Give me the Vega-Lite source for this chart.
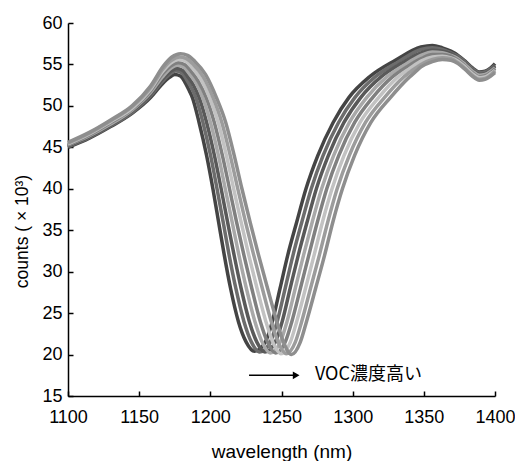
{
"$schema":"https://vega.github.io/schema/vega-lite/v6.json",
"width":427,"height":373,
"autosize":{"type":"none"},
"padding":{"left":68,"top":23,"right":20,"bottom":65},
"background":"white",
"config":{"view":{"stroke":null}},
"encoding":{
 "x":{"field":"x","type":"quantitative","scale":{"domain":[1100,1400],"nice":false,"zero":false},
  "axis":{"values":[1100,1150,1200,1250,1300,1350,1400],"format":"d","title":"wavelength (nm)","tickSize":-5,"labelPadding":17,"labelFontSize":18,"titleFontSize":19,"titleFontWeight":"normal","titleY":46,"titleBaseline":"top","grid":false,"domainColor":"black","tickColor":"black","labelColor":"black","titleColor":"black","labelFont":"Liberation Sans","titleFont":"Liberation Sans","domainWidth":1.5,"tickWidth":1.5,"labelFlush":false,"labelOverlap":false}},
 "y":{"field":"y","type":"quantitative","scale":{"domain":[15,60],"nice":false,"zero":false},
  "axis":{"values":[15,20,25,30,35,40,45,50,55,60],"title":"counts ( × 10³)","tickSize":-5,"labelPadding":11,"labelFontSize":18,"titleFontSize":17.5,"titleFontWeight":"normal","titleX":-37,"titleY":208,"grid":false,"domainColor":"black","tickColor":"black","labelColor":"black","titleColor":"black","labelFont":"Liberation Sans","titleFont":"Liberation Sans","domainWidth":1.5,"tickWidth":1.5,"labelFlush":false,"labelOverlap":false}}
},
"layer":[
{"data":{"values":[
{"c":0,"x":1100,"y":45.0},{"c":0,"x":1115,"y":46.1},{"c":0,"x":1130,"y":47.5},{"c":0,"x":1145,"y":49.1},{"c":0,"x":1158,"y":51.0},{"c":0,"x":1166,"y":52.6},{"c":0,"x":1171,"y":53.4},{"c":0,"x":1175,"y":53.8},{"c":0,"x":1179,"y":53.6},{"c":0,"x":1183,"y":52.6},{"c":0,"x":1185.3,"y":51.8},{"c":0,"x":1187.4,"y":51},{"c":0,"x":1192.1,"y":48},{"c":0,"x":1197.4,"y":44},{"c":0,"x":1201.8,"y":40},{"c":0,"x":1205.8,"y":36},{"c":0,"x":1209.8,"y":32},{"c":0,"x":1214.2,"y":28},{"c":0,"x":1219.7,"y":24},{"c":0,"x":1225.2,"y":21.5},{"c":0,"x":1231,"y":20.4},{"c":0,"x":1238.6,"y":21.5},{"c":0,"x":1243.6,"y":24},{"c":0,"x":1249,"y":28},{"c":0,"x":1254.4,"y":32},{"c":0,"x":1260.7,"y":36},{"c":0,"x":1267.2,"y":40},{"c":0,"x":1275.5,"y":44},{"c":0,"x":1286.3,"y":48},{"c":0,"x":1297.3,"y":51},{"c":0,"x":1311.8,"y":53.5},{"c":0,"x":1330,"y":55.5},{"c":0,"x":1348,"y":57.1},{"c":0,"x":1356,"y":57.3},{"c":0,"x":1363,"y":57.0},{"c":0,"x":1369,"y":56.6},{"c":0,"x":1374,"y":56.1},{"c":0,"x":1379,"y":55.4},{"c":0,"x":1384,"y":54.6},{"c":0,"x":1389,"y":54.1},{"c":0,"x":1393,"y":54.2},{"c":0,"x":1397,"y":54.6},{"c":0,"x":1400,"y":55.1},
{"c":1,"x":1100,"y":45.1},{"c":1,"x":1115,"y":46.2},{"c":1,"x":1130,"y":47.6},{"c":1,"x":1145,"y":49.2},{"c":1,"x":1158,"y":51.2},{"c":1,"x":1166.1,"y":52.9},{"c":1,"x":1171.3,"y":53.8},{"c":1,"x":1175.6,"y":54.2},{"c":1,"x":1179.7,"y":54.0},{"c":1,"x":1183.9,"y":53.0},{"c":1,"x":1186.9,"y":52.1},{"c":1,"x":1189.8,"y":51},{"c":1,"x":1194.8,"y":48},{"c":1,"x":1200.2,"y":44},{"c":1,"x":1204.7,"y":40},{"c":1,"x":1209.0,"y":36},{"c":1,"x":1213.2,"y":32},{"c":1,"x":1217.9,"y":28},{"c":1,"x":1223.6,"y":24},{"c":1,"x":1228.9,"y":21.5},{"c":1,"x":1234.7,"y":20.3},{"c":1,"x":1242.1,"y":21.5},{"c":1,"x":1247.0,"y":24},{"c":1,"x":1252.6,"y":28},{"c":1,"x":1258.1,"y":32},{"c":1,"x":1264.3,"y":36},{"c":1,"x":1270.9,"y":40},{"c":1,"x":1279.2,"y":44},{"c":1,"x":1290.1,"y":48},{"c":1,"x":1301.5,"y":51},{"c":1,"x":1315.8,"y":53.5},{"c":1,"x":1332,"y":55.3},{"c":1,"x":1348,"y":56.8},{"c":1,"x":1356,"y":57.0},{"c":1,"x":1363,"y":56.8},{"c":1,"x":1369,"y":56.4},{"c":1,"x":1374,"y":56.0},{"c":1,"x":1379,"y":55.3},{"c":1,"x":1384,"y":54.5},{"c":1,"x":1389,"y":54.0},{"c":1,"x":1393,"y":54.1},{"c":1,"x":1397,"y":54.5},{"c":1,"x":1400,"y":54.9},
{"c":2,"x":1100,"y":45.2},{"c":2,"x":1115,"y":46.3},{"c":2,"x":1130,"y":47.7},{"c":2,"x":1145,"y":49.4},{"c":2,"x":1158,"y":51.4},{"c":2,"x":1166.3,"y":53.2},{"c":2,"x":1171.6,"y":54.1},{"c":2,"x":1176.1,"y":54.5},{"c":2,"x":1180.4,"y":54.3},{"c":2,"x":1184.7,"y":53.4},{"c":2,"x":1188.5,"y":52.4},{"c":2,"x":1192.2,"y":51},{"c":2,"x":1197.4,"y":48},{"c":2,"x":1202.9,"y":44},{"c":2,"x":1207.6,"y":40},{"c":2,"x":1212.1,"y":36},{"c":2,"x":1216.7,"y":32},{"c":2,"x":1221.6,"y":28},{"c":2,"x":1227.4,"y":24},{"c":2,"x":1232.7,"y":21.5},{"c":2,"x":1238.4,"y":20.3},{"c":2,"x":1245.6,"y":21.5},{"c":2,"x":1250.5,"y":24},{"c":2,"x":1256.1,"y":28},{"c":2,"x":1261.8,"y":32},{"c":2,"x":1268.0,"y":36},{"c":2,"x":1274.5,"y":40},{"c":2,"x":1282.9,"y":44},{"c":2,"x":1293.9,"y":48},{"c":2,"x":1305.6,"y":51},{"c":2,"x":1319.9,"y":53.5},{"c":2,"x":1334,"y":55.1},{"c":2,"x":1348,"y":56.4},{"c":2,"x":1356,"y":56.7},{"c":2,"x":1363,"y":56.6},{"c":2,"x":1369,"y":56.3},{"c":2,"x":1374,"y":55.8},{"c":2,"x":1379,"y":55.1},{"c":2,"x":1384,"y":54.3},{"c":2,"x":1389,"y":53.8},{"c":2,"x":1393,"y":53.9},{"c":2,"x":1397,"y":54.3},{"c":2,"x":1400,"y":54.8},
{"c":3,"x":1100,"y":45.3},{"c":3,"x":1115,"y":46.4},{"c":3,"x":1130,"y":47.8},{"c":3,"x":1145,"y":49.5},{"c":3,"x":1158,"y":51.6},{"c":3,"x":1166.4,"y":53.5},{"c":3,"x":1171.9,"y":54.5},{"c":3,"x":1176.7,"y":54.9},{"c":3,"x":1181.1,"y":54.7},{"c":3,"x":1185.6,"y":53.8},{"c":3,"x":1190.1,"y":52.7},{"c":3,"x":1194.6,"y":51},{"c":3,"x":1200.1,"y":48},{"c":3,"x":1205.7,"y":44},{"c":3,"x":1210.5,"y":40},{"c":3,"x":1215.3,"y":36},{"c":3,"x":1220.1,"y":32},{"c":3,"x":1225.3,"y":28},{"c":3,"x":1231.3,"y":24},{"c":3,"x":1236.4,"y":21.5},{"c":3,"x":1242.1,"y":20.2},{"c":3,"x":1249.1,"y":21.5},{"c":3,"x":1253.9,"y":24},{"c":3,"x":1259.7,"y":28},{"c":3,"x":1265.5,"y":32},{"c":3,"x":1271.6,"y":36},{"c":3,"x":1278.2,"y":40},{"c":3,"x":1286.6,"y":44},{"c":3,"x":1297.7,"y":48},{"c":3,"x":1309.8,"y":51},{"c":3,"x":1323.9,"y":53.5},{"c":3,"x":1336,"y":54.9},{"c":3,"x":1348,"y":56.1},{"c":3,"x":1356,"y":56.5},{"c":3,"x":1363,"y":56.4},{"c":3,"x":1369,"y":56.1},{"c":3,"x":1374,"y":55.7},{"c":3,"x":1379,"y":55.0},{"c":3,"x":1384,"y":54.2},{"c":3,"x":1389,"y":53.7},{"c":3,"x":1393,"y":53.8},{"c":3,"x":1397,"y":54.2},{"c":3,"x":1400,"y":54.6},
{"c":4,"x":1100,"y":45.3},{"c":4,"x":1115,"y":46.5},{"c":4,"x":1130,"y":48.0},{"c":4,"x":1145,"y":49.6},{"c":4,"x":1158,"y":51.8},{"c":4,"x":1166.6,"y":53.9},{"c":4,"x":1172.1,"y":54.8},{"c":4,"x":1177.3,"y":55.2},{"c":4,"x":1181.9,"y":55.0},{"c":4,"x":1186.4,"y":54.2},{"c":4,"x":1191.8,"y":52.9},{"c":4,"x":1197.1,"y":51},{"c":4,"x":1202.8,"y":48},{"c":4,"x":1208.5,"y":44},{"c":4,"x":1213.5,"y":40},{"c":4,"x":1218.4,"y":36},{"c":4,"x":1223.6,"y":32},{"c":4,"x":1229.1,"y":28},{"c":4,"x":1235.1,"y":24},{"c":4,"x":1240.2,"y":21.5},{"c":4,"x":1245.9,"y":20.2},{"c":4,"x":1252.6,"y":21.5},{"c":4,"x":1257.3,"y":24},{"c":4,"x":1263.3,"y":28},{"c":4,"x":1269.2,"y":32},{"c":4,"x":1275.2,"y":36},{"c":4,"x":1281.8,"y":40},{"c":4,"x":1290.2,"y":44},{"c":4,"x":1301.4,"y":48},{"c":4,"x":1314.0,"y":51},{"c":4,"x":1327.9,"y":53.5},{"c":4,"x":1338,"y":54.7},{"c":4,"x":1348,"y":55.7},{"c":4,"x":1356,"y":56.2},{"c":4,"x":1363,"y":56.2},{"c":4,"x":1369,"y":56.0},{"c":4,"x":1374,"y":55.5},{"c":4,"x":1379,"y":54.8},{"c":4,"x":1384,"y":54.0},{"c":4,"x":1389,"y":53.5},{"c":4,"x":1393,"y":53.6},{"c":4,"x":1397,"y":54.0},{"c":4,"x":1400,"y":54.5},
{"c":5,"x":1100,"y":45.4},{"c":5,"x":1115,"y":46.6},{"c":5,"x":1130,"y":48.1},{"c":5,"x":1145,"y":49.7},{"c":5,"x":1158,"y":52.0},{"c":5,"x":1166.7,"y":54.2},{"c":5,"x":1172.4,"y":55.2},{"c":5,"x":1177.9,"y":55.6},{"c":5,"x":1182.6,"y":55.4},{"c":5,"x":1187.3,"y":54.6},{"c":5,"x":1193.4,"y":53.2},{"c":5,"x":1199.5,"y":51},{"c":5,"x":1205.5,"y":48},{"c":5,"x":1211.3,"y":44},{"c":5,"x":1216.4,"y":40},{"c":5,"x":1221.6,"y":36},{"c":5,"x":1227.0,"y":32},{"c":5,"x":1232.8,"y":28},{"c":5,"x":1239.0,"y":24},{"c":5,"x":1243.9,"y":21.5},{"c":5,"x":1249.6,"y":20.1},{"c":5,"x":1256.2,"y":21.5},{"c":5,"x":1260.7,"y":24},{"c":5,"x":1266.9,"y":28},{"c":5,"x":1272.9,"y":32},{"c":5,"x":1278.8,"y":36},{"c":5,"x":1285.5,"y":40},{"c":5,"x":1293.9,"y":44},{"c":5,"x":1305.2,"y":48},{"c":5,"x":1318.2,"y":51},{"c":5,"x":1331.9,"y":53.5},{"c":5,"x":1340,"y":54.5},{"c":5,"x":1348,"y":55.4},{"c":5,"x":1356,"y":55.9},{"c":5,"x":1363,"y":56.0},{"c":5,"x":1369,"y":55.8},{"c":5,"x":1374,"y":55.4},{"c":5,"x":1379,"y":54.7},{"c":5,"x":1384,"y":53.9},{"c":5,"x":1389,"y":53.4},{"c":5,"x":1393,"y":53.5},{"c":5,"x":1397,"y":53.9},{"c":5,"x":1400,"y":54.3},
{"c":6,"x":1100,"y":45.5},{"c":6,"x":1115,"y":46.7},{"c":6,"x":1130,"y":48.2},{"c":6,"x":1145,"y":49.9},{"c":6,"x":1158,"y":52.2},{"c":6,"x":1166.9,"y":54.5},{"c":6,"x":1172.7,"y":55.5},{"c":6,"x":1178.4,"y":55.9},{"c":6,"x":1183.3,"y":55.7},{"c":6,"x":1188.1,"y":55.0},{"c":6,"x":1195.0,"y":53.5},{"c":6,"x":1201.9,"y":51},{"c":6,"x":1208.1,"y":48},{"c":6,"x":1214.0,"y":44},{"c":6,"x":1219.3,"y":40},{"c":6,"x":1224.7,"y":36},{"c":6,"x":1230.5,"y":32},{"c":6,"x":1236.5,"y":28},{"c":6,"x":1242.8,"y":24},{"c":6,"x":1247.7,"y":21.5},{"c":6,"x":1253.3,"y":20.1},{"c":6,"x":1259.7,"y":21.5},{"c":6,"x":1264.2,"y":24},{"c":6,"x":1270.4,"y":28},{"c":6,"x":1276.6,"y":32},{"c":6,"x":1282.5,"y":36},{"c":6,"x":1289.1,"y":40},{"c":6,"x":1297.6,"y":44},{"c":6,"x":1309.0,"y":48},{"c":6,"x":1322.3,"y":51},{"c":6,"x":1336.0,"y":53.5},{"c":6,"x":1342,"y":54.3},{"c":6,"x":1348,"y":55.0},{"c":6,"x":1356,"y":55.6},{"c":6,"x":1363,"y":55.8},{"c":6,"x":1369,"y":55.7},{"c":6,"x":1374,"y":55.2},{"c":6,"x":1379,"y":54.5},{"c":6,"x":1384,"y":53.7},{"c":6,"x":1389,"y":53.2},{"c":6,"x":1393,"y":53.3},{"c":6,"x":1397,"y":53.7},{"c":6,"x":1400,"y":54.2},
{"c":7,"x":1100,"y":45.6},{"c":7,"x":1115,"y":46.8},{"c":7,"x":1130,"y":48.3},{"c":7,"x":1145,"y":50.0},{"c":7,"x":1158,"y":52.4},{"c":7,"x":1167,"y":54.8},{"c":7,"x":1173,"y":55.9},{"c":7,"x":1179,"y":56.3},{"c":7,"x":1184,"y":56.1},{"c":7,"x":1189,"y":55.4},{"c":7,"x":1196.6,"y":53.8},{"c":7,"x":1204.3,"y":51},{"c":7,"x":1210.8,"y":48},{"c":7,"x":1216.8,"y":44},{"c":7,"x":1222.2,"y":40},{"c":7,"x":1227.9,"y":36},{"c":7,"x":1233.9,"y":32},{"c":7,"x":1240.2,"y":28},{"c":7,"x":1246.7,"y":24},{"c":7,"x":1251.4,"y":21.5},{"c":7,"x":1257,"y":20.0},{"c":7,"x":1263.2,"y":21.5},{"c":7,"x":1267.6,"y":24},{"c":7,"x":1274,"y":28},{"c":7,"x":1280.3,"y":32},{"c":7,"x":1286.1,"y":36},{"c":7,"x":1292.8,"y":40},{"c":7,"x":1301.3,"y":44},{"c":7,"x":1312.8,"y":48},{"c":7,"x":1326.5,"y":51},{"c":7,"x":1340,"y":53.5},{"c":7,"x":1344,"y":54.1},{"c":7,"x":1348,"y":54.7},{"c":7,"x":1356,"y":55.35},{"c":7,"x":1363,"y":55.6},{"c":7,"x":1369,"y":55.5},{"c":7,"x":1374,"y":55.1},{"c":7,"x":1379,"y":54.4},{"c":7,"x":1384,"y":53.6},{"c":7,"x":1389,"y":53.1},{"c":7,"x":1393,"y":53.2},{"c":7,"x":1397,"y":53.6},{"c":7,"x":1400,"y":54.0}
]},
"mark":{"type":"line","interpolate":"monotone","strokeWidth":3.5},
"encoding":{"color":{"field":"c","type":"nominal","scale":{"domain":[0,1,2,3,4,5,6,7],"range":["#444444","#6c6c6c","#595959","#a8a8a8","#808080","#c2c2c2","#9c9c9c","#8e8e8e"]},"legend":null}}
},
{"data":{"values":[{"x":1227.2,"y":17.5,"x2":1259}]},
 "mark":{"type":"rule","color":"black","strokeWidth":1.5},
 "encoding":{"x2":{"field":"x2"}}},
{"data":{"values":[{"x":1260.3,"y":17.5}]},
 "mark":{"type":"point","shape":"triangle-right","filled":true,"color":"black","size":60,"opacity":1},
 "encoding":{}},
{"data":{"values":[{"x":1273.5,"y":17.5,"label":"VOC濃度高い"}]},
 "mark":{"type":"text","align":"left","baseline":"middle","fontSize":18,"font":"Noto Sans CJK JP","color":"black"},
 "encoding":{"text":{"field":"label"}}}
]
}
